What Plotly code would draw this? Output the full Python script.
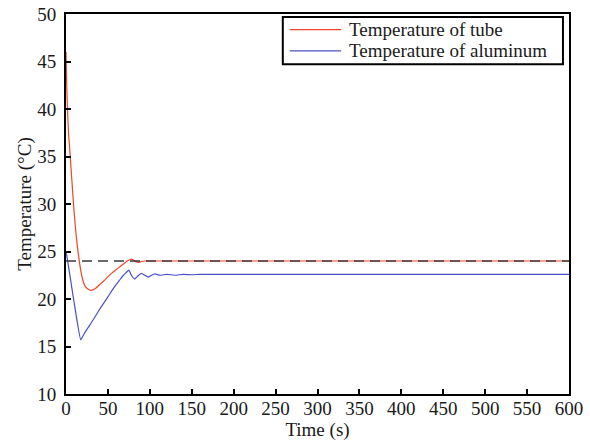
import plotly.graph_objects as go

# Temperature of tube (red)
tube_t = [0, 1, 2, 3, 4, 6, 8, 10, 12, 14, 16, 18, 20, 23, 27, 30, 35, 40, 45, 50, 55, 60, 65, 70, 74, 78, 82, 86, 90, 95, 100, 150, 200, 300, 400, 500, 600]
tube_T = [46, 42, 39.5, 37.5, 36.3, 33.8, 31.2, 28.8, 26.8, 25.2, 23.9, 22.8, 22.0, 21.3, 21.0, 20.9, 21.1, 21.5, 21.9, 22.35, 22.75, 23.1, 23.45, 23.8, 24.05, 24.2, 24.0, 23.85, 23.95, 24.0, 24.0, 24.0, 24.0, 24.0, 24.0, 24.0, 24.0]

# Temperature of aluminum (blue)
alu_t = [0, 2, 5, 9, 13, 17.5, 22, 28, 33, 40, 46, 52, 58, 64, 68, 72, 75, 78, 82, 86, 90, 94, 98, 102, 106, 112, 120, 130, 140, 150, 160, 200, 300, 400, 500, 600]
alu_T = [25.0, 24.0, 22.3, 20.0, 17.8, 15.7, 16.4, 17.2, 17.9, 18.9, 19.7, 20.5, 21.3, 22.0, 22.45, 22.8, 23.05, 22.5, 22.1, 22.45, 22.7, 22.5, 22.3, 22.5, 22.65, 22.5, 22.6, 22.5, 22.6, 22.55, 22.6, 22.6, 22.6, 22.6, 22.6, 22.6]

# Reference (set point) line
ref_t = [0, 600]
ref_T = [24, 24]

series_names = ["Temperature of tube", "Temperature of aluminum"]
series_colors = ["#f0452a", "#4b4fc4"]

FONT = "Liberation Serif"
TXT = dict(family=FONT, size=19, color="#1a1a1a")
LEG = dict(family=FONT, size=19, color="#1a1a1a")

fig = go.Figure()
fig.add_trace(go.Scatter(x=tube_t, y=tube_T, mode="lines", name=series_names[0],
                         line=dict(color=series_colors[0], width=1.2, shape="spline", smoothing=0.6)))
fig.add_trace(go.Scatter(x=alu_t, y=alu_T, mode="lines", name=series_names[1],
                         line=dict(color=series_colors[1], width=1.2, shape="spline", smoothing=0.3)))
fig.add_trace(go.Scatter(x=ref_t, y=ref_T, mode="lines", name="set point",
                         line=dict(color="#3a3a3a", width=1.6, dash="10px,6px")))

# Boxed legend drawn in paper coordinates
fig.add_shape(type="rect", xref="paper", yref="paper", x0=0.431, x1=0.988, y0=0.868, y1=0.992,
              line=dict(color="black", width=2), fillcolor="white", layer="above")
row_y = [0.959, 0.903]
for name, col, yy in zip(series_names, series_colors, row_y):
    fig.add_shape(type="line", xref="paper", yref="paper", x0=0.445, x1=0.547, y0=yy, y1=yy,
                  line=dict(color=col, width=1.2), layer="above")
    fig.add_annotation(xref="paper", yref="paper", x=0.559, y=yy, text=name, showarrow=False,
                       xanchor="left", yanchor="middle", font=LEG)

fig.update_layout(
    template="none",
    width=590, height=441,
    margin=dict(l=66, r=21, t=14, b=47, pad=0),
    paper_bgcolor="white", plot_bgcolor="white",
    font=TXT,
    showlegend=False,
    xaxis=dict(range=[0, 600], dtick=50, tick0=0, showgrid=False, zeroline=False,
               showline=True, linecolor="black", linewidth=2, mirror=True,
               ticks="inside", ticklen=5, tickwidth=2, tickcolor="black",
               automargin=False, tickfont=TXT, ticklabelstandoff=-4,
               title=dict(text="Time (s)", standoff=0, font=TXT)),
    yaxis=dict(range=[10, 50], dtick=5, tick0=10, showgrid=False, zeroline=False,
               showline=True, linecolor="black", linewidth=2, mirror=True,
               ticks="inside", ticklen=5, tickwidth=2, tickcolor="black",
               automargin=False, tickfont=TXT, ticklabelstandoff=4,
               title=dict(text="Temperature (°C)", standoff=1, font=TXT)),
)

fig.write_html("out.html", config={"displayModeBar": False},
               post_script="document.body.style.margin='0';")
